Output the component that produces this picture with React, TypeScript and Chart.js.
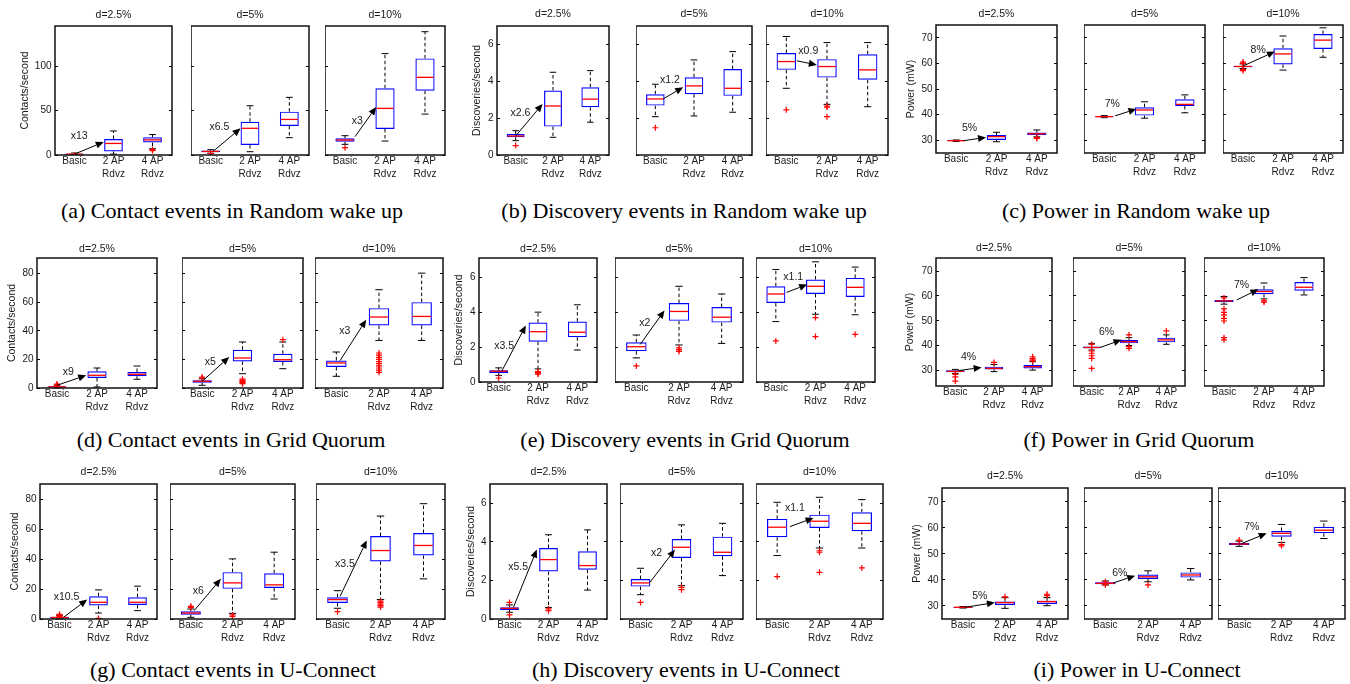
import React, { useEffect, useRef } from "react";
import { Chart, registerables } from "chart.js";

Chart.register(...registerables);

// ---------- categories / labels ----------
const CATEGORIES: string[][] = [["Basic"], ["2 AP", "Rdvz"], ["4 AP", "Rdvz"]];
const DUTY_CYCLES = ["d=2.5%", "d=5%", "d=10%"];

// ---------- tick labels ----------
const contactsRandomTicks = [0, 50, 100];
const contactsTicks = [0, 20, 40, 60, 80];
const discoveriesTicks = [0, 2, 4, 6];
const powerTicks = [30, 40, 50, 60, 70];

// ---------- box statistics: per duty cycle, per scheme: [low whisker, q1, median, q3, high whisker] ----------
const contactsRandom = [
  [[0.3, 0.6, 1, 1.5, 2.2], [1, 4, 13, 18, 27], [7, 14, 17, 20, 23]],
  [[2, 3, 4, 5, 6], [3.7, 11.2, 30, 37.4, 55.4], [19.5, 32.6, 40, 48.7, 64.8]],
  [[12, 15, 16.9, 18.7, 21.7], [15.7, 29.2, 52.4, 75, 114], [46, 72.3, 87.3, 108.6, 138.6]],
];
const contactsRandomOutliers = [
  [[0], [], [5, 6.2]],
  [[1.5], [], []],
  [[8.2], [], []],
];
// gain annotation: [text, fromIndex, fromValue, toIndex, toValue, textIndex, textValue]
const contactsRandomGain = [
  ["x13", 0, 1, 0.75, 14.6, 0.12, 21.3],
  ["x6.5", 0.06, 4, 0.76, 30, 0.22, 31.8],
  ["x3", 0.25, 20.6, 0.78, 54, 0.31, 38],
];

const discoveriesRandom = [
  [[0.78, 0.96, 1.03, 1.14, 1.32], [0.96, 1.54, 2.66, 3.5, 4.49], [1.78, 2.59, 3.03, 3.68, 4.58]],
  [[2.08, 2.68, 3.04, 3.3, 3.84], [2.12, 3.3, 3.75, 4.22, 5.16], [2.32, 3.21, 3.62, 4.66, 5.61]],
  [[3.62, 4.62, 5.07, 5.53, 6.43], [2.75, 4.2, 4.8, 5.2, 6.1], [2.62, 4.08, 4.62, 5.47, 6.1]],
];
const discoveriesRandomOutliers = [
  [[0.51], [], []],
  [[1.48], [], []],
  [[2.45], [2.66, 2.6, 2.08], []],
];
const discoveriesRandomGain = [
  ["x2.6", 0, 1.03, 0.72, 2.77, 0.13, 2.27],
  ["x1.2", 0.2, 3.04, 0.72, 3.68, 0.38, 4.08],
  ["x0.9", 0.26, 5.11, 0.75, 4.89, 0.54, 5.65],
];

const powerRandom = [
  [[29.5, 29.65, 29.8, 29.95, 30.1], [29.4, 30.1, 31.4, 32.0, 33.1], [31.3, 32.0, 32.5, 33.0, 34.0]],
  [[38.8, 39.0, 39.2, 39.4, 39.6], [38.6, 39.6, 41.8, 42.9, 45.0], [40.7, 43.4, 44.0, 46.0, 47.7]],
  [[58.0, 58.5, 58.8, 59.1, 59.8], [57.4, 59.6, 63.7, 65.9, 70.7], [62.4, 65.6, 69.1, 71.5, 73.9]],
];
const powerRandomOutliers = [
  [[], [], [30.7, 31.0]],
  [[], [], []],
  [[57.2, 57.6, 60.1, 60.5], [], []],
];
const powerRandomGain = [
  ["5%", 0.18, 29.8, 0.74, 31.1, 0.33, 34.9],
  ["7%", 0.27, 39.5, 0.8, 42.2, 0.2, 44],
  ["8%", 0, 59, 0.8, 64.6, 0.38, 65],
];

const contactsGrid = [
  [[0, 0.3, 0.8, 1.2, 2], [0.7, 7, 8.9, 11.7, 14], [6.1, 8.2, 9.6, 11.2, 15.4]],
  [[1.9, 3.7, 4.7, 5.4, 6.5], [10, 18.6, 21, 26.8, 32.2], [13.5, 18.2, 19.8, 24, 32.2]],
  [[8.2, 14.7, 17.5, 19.3, 25.2], [33.3, 43.8, 49.7, 55.9, 68.8], [33.3, 43.8, 50.1, 60.1, 80.4]],
];
const contactsGridOutliers = [
  [[1.5, 2.2, 2.8], [], []],
  [[7, 7.7], [3, 3.8, 4.5, 5, 5.6, 6.2], [33.8]],
  [[], [11, 12.5, 14, 15.5, 17, 18.5, 20, 21.5, 23, 24.5], []],
];
const contactsGridGain = [
  ["x9", 0, 1.9, 0.73, 8.9, 0.28, 11.2],
  ["x5", 0, 4.7, 0.67, 21.7, 0.2, 18.2],
  ["x3", 0.09, 19.3, 0.7, 47.8, 0.2, 39.6],
];

const discoveriesGrid = [
  [[0.38, 0.52, 0.62, 0.67, 0.81], [0.75, 2.31, 2.88, 3.4, 4.0], [1.83, 2.56, 2.85, 3.46, 4.42]],
  [[1.38, 1.77, 2.02, 2.27, 2.69], [2.12, 3.5, 4.04, 4.52, 5.48], [2.21, 3.4, 3.71, 4.29, 5.04]],
  [[3.46, 4.52, 5.04, 5.48, 6.44], [3.88, 5.04, 5.48, 5.87, 6.88], [3.85, 4.87, 5.42, 5.96, 6.58]],
];
const discoveriesGridOutliers = [
  [[0.23], [0.45, 0.5, 0.55, 0.6], []],
  [[0.92], [1.75, 1.85, 1.95], []],
  [[2.35], [3.69, 2.6], [2.73]],
];
const discoveriesGridGain = [
  ["x3.5", 0.08, 0.63, 0.69, 3.23, 0.14, 2.08],
  ["x2", 0.09, 2.15, 0.66, 4.1, 0.2, 3.4],
  ["x1.1", 0.27, 5.13, 0.79, 5.58, 0.44, 6.0],
];

const powerGrid = [
  [[28.8, 29.2, 29.6, 30, 30.4], [29.5, 30.4, 30.8, 31.5, 32.4], [30.1, 30.8, 31.5, 32.2, 33.5]],
  [[38.2, 38.9, 39.2, 39.6, 40.9], [40, 40.9, 41.6, 42.3, 43.2], [40.5, 41.3, 42.3, 43.2, 44.3]],
  [[56.7, 57.5, 58, 58.4, 59.8], [58.8, 60.7, 61.8, 62.7, 65.2], [60.4, 62.1, 63.5, 65.6, 67.4]],
];
const powerGridOutliers = [
  [[25.7, 27.4, 28.4], [33.2], [33.8, 34.2, 34.8, 35.5]],
  [[40.5, 37.8, 36.9, 35.9, 34.8, 30.8], [44.3, 39.6, 38.9], [45.9]],
  [[59.2, 54.8, 53.4, 52.4, 51, 49.9, 43.2, 42.3], [58, 57.5], []],
];
const powerGridGain = [
  ["4%", 0.08, 29.9, 0.68, 31.2, 0.34, 35.5],
  ["6%", 0.22, 39.2, 0.8, 42.3, 0.4, 45.4],
  ["7%", 0.32, 58.4, 0.86, 62.7, 0.44, 64.5],
];

const contactsUConnect = [
  [[0, 0.3, 1, 1.5, 2.5], [4, 9, 11.2, 15.2, 19.5], [5.6, 9.4, 11.2, 14.6, 22]],
  [[1.1, 2.9, 4, 5.2, 6.7], [3.8, 20.2, 24.2, 31.4, 40.3], [13.4, 20.8, 22.9, 30.7, 44.8]],
  [[7.2, 10.8, 13, 14.6, 19], [13, 38.5, 45.9, 55.6, 69], [26.9, 42.6, 49.3, 57.6, 77.3]],
];
const contactsUConnectOutliers = [
  [[1.8, 2.6, 3.1], [0.4], []],
  [[7.8, 8.5], [2.7, 1.8], []],
  [[4.9], [8, 9, 10, 11, 12], []],
];
const contactsUConnectGain = [
  ["x10.5", 0.1, 1.1, 0.71, 13, 0.18, 14.6],
  ["x6", 0.08, 5.6, 0.72, 26.9, 0.18, 19],
  ["x3.5", 0.06, 15.2, 0.68, 52.7, 0.17, 37],
];

const discoveriesUConnect = [
  [[0.35, 0.47, 0.55, 0.61, 0.73], [0.6, 2.46, 3.08, 3.68, 4.37], [1.5, 2.56, 2.77, 3.51, 4.62]],
  [[1.26, 1.68, 1.87, 2.07, 2.63], [1.73, 3.16, 3.72, 4.15, 4.88], [2.25, 3.25, 3.46, 4.27, 4.96]],
  [[3.29, 4.24, 4.76, 5.19, 6.05], [3.68, 4.72, 5.07, 5.41, 6.31], [3.68, 4.55, 4.96, 5.53, 6.19]],
];
const discoveriesUConnectOutliers = [
  [[0.86, 0.21], [0.52, 0.43], []],
  [[0.86], [1.64, 1.52], []],
  [[2.2], [3.54, 3.46, 2.42], [2.65]],
];
const discoveriesUConnectGain = [
  ["x5.5", 0.1, 0.6, 0.7, 3.6, 0.22, 2.68],
  ["x2", 0.23, 1.9, 0.84, 3.6, 0.39, 3.4],
  ["x1.1", 0.3, 4.79, 0.86, 5.24, 0.42, 5.74],
];

const powerUConnect = [
  [[29.2, 29.35, 29.5, 29.65, 29.8], [29.1, 30.4, 31.3, 31.7, 33.2], [30.1, 30.8, 31.7, 32, 33.2]],
  [[38.1, 38.3, 38.7, 39.1, 39.6], [39.3, 40.4, 41.2, 42.1, 43.5], [40, 40.9, 41.9, 42.9, 44.4]],
  [[52.9, 53.4, 53.8, 54.3, 54.9], [54.4, 56.6, 57.9, 58.8, 61.3], [55.9, 57.9, 59.1, 60.4, 62.6]],
];
const powerUConnectOutliers = [
  [[], [33.5], [34, 34.5]],
  [[39.3, 38.1], [38.1], []],
  [[55.3], [53.6, 53.1], []],
];
const powerUConnectGain = [
  ["5%", 0.05, 29.5, 0.76, 31.3, 0.4, 33.6],
  ["6%", 0.19, 38.9, 0.7, 41.6, 0.34, 42.8],
  ["7%", 0.06, 54, 0.65, 57.9, 0.3, 60.4],
];

// ---------- figure table (layout + references to the data above) ----------
type Fig = {
  caption: string;
  yTitle: string;
  boxes: number[][][];
  outliers: number[][][];
  gains: (string | number)[][];
  ticks: number[];
  yMin: number;
  yMax: number;
  top: number;
  bottom: number;
  frames: number[][];
  yw: number;
  titleGap: number;
  capX: number;
  capY: number;
};

const FIGURES: Fig[] = [
  { caption: "(a) Contact events in Random wake up", yTitle: "Contacts/second", boxes: contactsRandom, outliers: contactsRandomOutliers, gains: contactsRandomGain, ticks: contactsRandomTicks, yMin: 0, yMax: 145, top: 26, bottom: 155, frames: [[55, 172], [191, 309], [325, 445]], yw: 36, titleGap: 11, capX: 232, capY: 211 },
  { caption: "(b) Discovery events in Random wake up", yTitle: "Discoveries/second", boxes: discoveriesRandom, outliers: discoveriesRandomOutliers, gains: discoveriesRandomGain, ticks: discoveriesTicks, yMin: 0, yMax: 7, top: 26, bottom: 155, frames: [[497, 609], [636, 752], [766, 888]], yw: 26, titleGap: 11.5, capX: 684, capY: 211 },
  { caption: "(c) Power in Random wake up", yTitle: "Power (mW)", boxes: powerRandom, outliers: powerRandomOutliers, gains: powerRandomGain, ticks: powerTicks, yMin: 25, yMax: 75, top: 25, bottom: 153, frames: [[936, 1057], [1084, 1205], [1223, 1343]], yw: 31, titleGap: 11, capX: 1136, capY: 211 },
  { caption: "(d) Contact events in Grid Quorum", yTitle: "Contacts/second", boxes: contactsGrid, outliers: contactsGridOutliers, gains: contactsGridGain, ticks: contactsTicks, yMin: 0, yMax: 91, top: 258, bottom: 388, frames: [[37, 157], [182, 303], [315, 443]], yw: 31, titleGap: 9, capX: 231, capY: 440 },
  { caption: "(e) Discovery events in Grid Quorum", yTitle: "Discoveries/second", boxes: discoveriesGrid, outliers: discoveriesGridOutliers, gains: discoveriesGridGain, ticks: discoveriesTicks, yMin: 0, yMax: 7.1, top: 258, bottom: 382, frames: [[479, 597], [615, 743], [756, 875]], yw: 26, titleGap: 9, capX: 685, capY: 440 },
  { caption: "(f) Power in Grid Quorum", yTitle: "Power (mW)", boxes: powerGrid, outliers: powerGridOutliers, gains: powerGridGain, ticks: powerTicks, yMin: 23.7, yMax: 75.3, top: 258, bottom: 386, frames: [[936, 1052], [1073, 1185], [1204, 1324]], yw: 32, titleGap: 9.5, capX: 1139, capY: 440 },
  { caption: "(g) Contact events in U-Connect", yTitle: "Contacts/second", boxes: contactsUConnect, outliers: contactsUConnectOutliers, gains: contactsUConnectGain, ticks: contactsTicks, yMin: 0, yMax: 90.5, top: 484, bottom: 619, frames: [[40, 157], [170, 295], [316, 445]], yw: 31, titleGap: 11.5, capX: 233, capY: 670 },
  { caption: "(h) Discovery events in U-Connect", yTitle: "Discoveries/second", boxes: discoveriesUConnect, outliers: discoveriesUConnectOutliers, gains: discoveriesUConnectGain, ticks: discoveriesTicks, yMin: 0, yMax: 7, top: 484, bottom: 619, frames: [[490, 607], [620, 743], [756, 883]], yw: 25, titleGap: 12, capX: 686, capY: 670 },
  { caption: "(i) Power in U-Connect", yTitle: "Power (mW)", boxes: powerUConnect, outliers: powerUConnectOutliers, gains: powerUConnectGain, ticks: powerTicks, yMin: 25, yMax: 75.3, top: 488, bottom: 619, frames: [[942, 1068], [1084, 1212], [1218, 1345]], yw: 31, titleGap: 11.5, capX: 1137, capY: 670 },
];

// ---------- styling ----------
const FONT = "'Liberation Sans', Arial, Helvetica, sans-serif";
const TEXT = "#1a1a1a";
const BOX_BLUE = "#0000ff";
const MEDIAN_RED = "#ff0000";
const TOP_PAD = 24;
const RIGHT_PAD = 2;
const X_AXIS_H = 32;
const BOX_FRACTION = 0.48;
const CAP_FRACTION = 0.36;

function drawArrow(ctx: CanvasRenderingContext2D, x0: number, y0: number, x1: number, y1: number) {
  const ang = Math.atan2(y1 - y0, x1 - x0);
  const len = 8;
  const wid = 3.5;
  const c = Math.cos(ang);
  const s = Math.sin(ang);
  const bx = x1 - len * c;
  const by = y1 - len * s;
  ctx.beginPath();
  ctx.moveTo(x0, y0);
  ctx.lineTo(bx, by);
  ctx.stroke();
  ctx.beginPath();
  ctx.moveTo(x1, y1);
  ctx.lineTo(bx + wid * s, by - wid * c);
  ctx.lineTo(bx - wid * s, by + wid * c);
  ctx.closePath();
  ctx.fill();
}

function Panel({ fig, p }: { fig: Fig; p: number }) {
  const ref = useRef<HTMLCanvasElement | null>(null);
  const first = p === 0;
  const [fl, fr] = fig.frames[p];
  const yw = first ? fig.yw : 0;
  const width = yw + (fr - fl) + RIGHT_PAD;
  const height = TOP_PAD + (fig.bottom - fig.top) + X_AXIS_H;
  const left = fl - yw;
  const top = fig.top - TOP_PAD;

  useEffect(() => {
    if (!ref.current) return;
    const boxes = fig.boxes[p];
    const outliers = fig.outliers[p];
    const gain = fig.gains[p];
    const pts: { x: number; y: number }[] = [];
    outliers.forEach((list, i) => list.forEach((v) => pts.push({ x: i, y: v })));

    const decor = {
      id: "boxDecor",
      beforeDatasetsDraw(chart: any) {
        const { ctx } = chart;
        const x = chart.scales.x;
        const y = chart.scales.y;
        const step = x.getPixelForValue(1) - x.getPixelForValue(0);
        const capHalf = (step * BOX_FRACTION * CAP_FRACTION) / 2;
        ctx.save();
        ctx.strokeStyle = "#000";
        ctx.lineWidth = 1;
        boxes.forEach((b, i) => {
          const cx = x.getPixelForValue(i);
          const [lo, q1, , q3, hi] = b;
          ctx.setLineDash([3.5, 2.5]);
          ctx.beginPath();
          ctx.moveTo(cx, y.getPixelForValue(q3));
          ctx.lineTo(cx, y.getPixelForValue(hi));
          ctx.moveTo(cx, y.getPixelForValue(q1));
          ctx.lineTo(cx, y.getPixelForValue(lo));
          ctx.stroke();
          ctx.setLineDash([]);
          ctx.beginPath();
          ctx.moveTo(cx - capHalf, y.getPixelForValue(hi));
          ctx.lineTo(cx + capHalf, y.getPixelForValue(hi));
          ctx.moveTo(cx - capHalf, y.getPixelForValue(lo));
          ctx.lineTo(cx + capHalf, y.getPixelForValue(lo));
          ctx.stroke();
        });
        ctx.restore();
      },
      afterDatasetsDraw(chart: any) {
        const { ctx } = chart;
        const x = chart.scales.x;
        const y = chart.scales.y;
        const step = x.getPixelForValue(1) - x.getPixelForValue(0);
        const half = (step * BOX_FRACTION) / 2;
        ctx.save();
        ctx.strokeStyle = MEDIAN_RED;
        ctx.lineWidth = 1.3;
        boxes.forEach((b, i) => {
          const cx = x.getPixelForValue(i);
          const my = y.getPixelForValue(b[2]);
          ctx.beginPath();
          ctx.moveTo(cx - half + 1, my);
          ctx.lineTo(cx + half - 1, my);
          ctx.stroke();
        });
        // gain arrow
        const [text, fx, fy, tx, ty, lx, ly] = gain as [string, number, number, number, number, number, number];
        ctx.strokeStyle = "#000";
        ctx.fillStyle = "#000";
        ctx.lineWidth = 1;
        drawArrow(ctx, x.getPixelForValue(fx), y.getPixelForValue(fy), x.getPixelForValue(tx), y.getPixelForValue(ty));
        ctx.fillStyle = TEXT;
        ctx.font = `10.5px ${FONT}`;
        ctx.textAlign = "center";
        ctx.textBaseline = "middle";
        ctx.fillText(text, x.getPixelForValue(lx), y.getPixelForValue(ly));
        ctx.restore();
      },
      afterDraw(chart: any) {
        const { ctx, chartArea: a } = chart;
        ctx.save();
        ctx.strokeStyle = "#111";
        ctx.lineWidth = 1.5;
        ctx.strokeRect(a.left, a.top, a.right - a.left, a.bottom - a.top);
        ctx.fillStyle = TEXT;
        ctx.font = `10.5px ${FONT}`;
        ctx.textAlign = "center";
        ctx.textBaseline = "middle";
        ctx.fillText(DUTY_CYCLES[p], (a.left + a.right) / 2, a.top - fig.titleGap);
        ctx.restore();
      },
    };

    const yCommon = (pos: "left" | "right") => ({
      type: "linear" as const,
      position: pos,
      min: fig.yMin,
      max: fig.yMax,
      afterBuildTicks: (s: any) => {
        s.ticks = fig.ticks.map((v) => ({ value: v }));
      },
      grid: { drawOnChartArea: false, drawTicks: true, tickLength: -3, color: "#000", lineWidth: 1 },
      border: { display: false },
    });

    const chart = new Chart(ref.current, {
      type: "bar",
      data: {
        labels: CATEGORIES as any,
        datasets: [
          {
            type: "scatter",
            data: pts,
            parsing: false,
            pointStyle: "cross",
            pointRadius: 3,
            pointHoverRadius: 3,
            pointBorderColor: MEDIAN_RED,
            pointBackgroundColor: MEDIAN_RED,
            pointBorderWidth: 1.2,
            showLine: false,
          } as any,
          {
            type: "bar",
            data: boxes.map((b) => [b[1], b[3]]),
            borderColor: BOX_BLUE,
            backgroundColor: "rgba(0,0,0,0)",
            borderWidth: 1.2,
            borderSkipped: false,
            barPercentage: BOX_FRACTION,
            categoryPercentage: 1,
          } as any,
        ],
      },
      options: {
        responsive: false,
        animation: false,
        devicePixelRatio: 1,
        events: [],
        layout: { padding: { top: TOP_PAD, right: RIGHT_PAD, left: 0, bottom: 0 }, autoPadding: false },
        plugins: { legend: { display: false }, tooltip: { enabled: false }, title: { display: false } },
        scales: {
          x: {
            type: "category",
            offset: true,
            grid: { display: false, drawTicks: false },
            border: { display: false },
            ticks: {
              font: { family: FONT, size: 10, lineHeight: 1.25 },
              color: TEXT,
              padding: 0,
              maxRotation: 0,
              autoSkip: false,
            },
            afterFit: (s: any) => {
              s.height = X_AXIS_H;
            },
          },
          y: {
            ...yCommon("left"),
            ticks: { display: first, font: { family: FONT, size: 10 }, color: TEXT, padding: 6.5 },
            title: {
              display: first,
              text: fig.yTitle,
              font: { family: FONT, size: 10.5 },
              color: TEXT,
              padding: 0,
            },
            afterFit: (s: any) => {
              s.width = yw;
            },
          },
          yr: {
            ...yCommon("right"),
            ticks: { display: false },
            afterFit: (s: any) => {
              s.width = 0;
            },
          },
        },
      } as any,
      plugins: [decor],
    });
    return () => chart.destroy();
  }, [fig, p]);

  return (
    <canvas
      ref={ref}
      width={width}
      height={height}
      style={{ position: "absolute", left, top, width, height }}
    />
  );
}

export default function App() {
  return (
    <div
      style={{
        position: "absolute",
        left: 0,
        top: 0,
        width: 1350,
        height: 684,
        background: "#fff",
        overflow: "hidden",
      }}
    >
      {FIGURES.map((fig, fi) => (
        <React.Fragment key={fi}>
          {[0, 1, 2].map((p) => (
            <Panel key={p} fig={fig} p={p} />
          ))}
          <div
            style={{
              position: "absolute",
              left: fig.capX,
              top: fig.capY - 13,
              transform: "translateX(-50%)",
              whiteSpace: "nowrap",
              fontFamily: "'Liberation Serif', 'Times New Roman', serif",
              fontSize: 22,
              lineHeight: "26px",
              color: "#000",
            }}
          >
            {fig.caption}
          </div>
        </React.Fragment>
      ))}
    </div>
  );
}
